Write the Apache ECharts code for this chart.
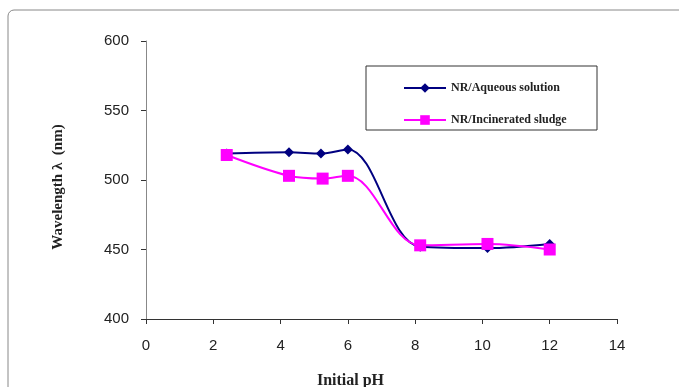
<!DOCTYPE html>
<html>
<head>
<meta charset="utf-8">
<script src="https://cdn.jsdelivr.net/npm/echarts@6/dist/echarts.min.js"></script>
<style>
  html, body { margin: 0; padding: 0; background: #fff; }
  #main { width: 679px; height: 387px; }
</style>
</head>
<body>
<div id="main"></div>
<script>
const xTicks = [0, 2, 4, 6, 8, 10, 12, 14];
const yTicks = [400, 450, 500, 550, 600];
const aqueousPH = [2.4, 4.25, 5.2, 6.0, 8.15, 10.15, 12.0];
const aqueousWave = [519, 520, 519, 522, 452, 451, 454];
const sludgePH = [2.4, 4.25, 5.25, 6.0, 8.15, 10.15, 12.0];
const sludgeWave = [518, 503, 501, 503, 453, 454, 450];

function pairs(xs, ys) {
  return xs.map(function (x, i) { return [x, ys[i]]; });
}

var myChart = echarts.init(document.getElementById("main"));
myChart.setOption({
  animation: false,
  grid: { left: 146, right: 62, top: 41, bottom: 68, containLabel: false, outerBoundsMode: "none" },
  graphic: [
    {
      type: "rect",
      shape: { x: 8, y: 10, width: 700, height: 400, r: 6 },
      style: { fill: "none", stroke: "#888", lineWidth: 1 }
    },
    {
      type: "rect",
      shape: { x: 366, y: 66, width: 231, height: 64 },
      style: { fill: "#fff", stroke: "#333", lineWidth: 1 },
      z: 5
    }
  ],
  legend: {
    orient: "vertical",
    left: 398,
    top: 77,
    itemGap: 20,
    itemWidth: 42,
    itemHeight: 12,
    z: 10,
    textStyle: {
      fontFamily: "Liberation Serif",
      fontWeight: "bold",
      fontSize: 12,
      color: "#222"
    },
    data: ["NR/Aqueous solution", "NR/Incinerated sludge"]
  },
  xAxis: {
    type: "value",
    min: 0,
    max: 14,
    interval: 2,
    name: "Initial pH",
    nameLocation: "middle",
    nameGap: 54,
    nameTextStyle: {
      fontFamily: "Liberation Serif",
      fontWeight: "bold",
      fontSize: 16,
      color: "#222",
      padding: [0, 62, 0, 0]
    },
    axisLine: { lineStyle: { color: "#333" } },
    axisTick: { show: true, length: 5, lineStyle: { color: "#333" } },
    axisLabel: {
      fontFamily: "Liberation Sans",
      fontSize: 15,
      color: "#222",
      margin: 19
    },
    splitLine: { show: false }
  },
  yAxis: {
    type: "value",
    min: 400,
    max: 600,
    interval: 50,
    name: "Wavelength λ  (nm)",
    nameLocation: "middle",
    nameGap: 80,
    nameTextStyle: {
      fontFamily: "Liberation Serif",
      fontWeight: "bold",
      fontSize: 15,
      color: "#222",
      padding: [0, 14, 0, 0]
    },
    axisLine: { show: true, lineStyle: { color: "#888" } },
    axisTick: { show: true, length: 5, lineStyle: { color: "#333" } },
    axisLabel: {
      fontFamily: "Liberation Sans",
      fontSize: 15,
      color: "#222",
      margin: 17
    },
    splitLine: { show: false }
  },
  series: [
    {
      name: "NR/Aqueous solution",
      type: "line",
      smooth: 0.35,
      data: pairs(aqueousPH, aqueousWave),
      symbol: "diamond",
      symbolSize: 10,
      itemStyle: { color: "#000080" },
      lineStyle: { color: "#000080", width: 2 },
      z: 2
    },
    {
      name: "NR/Incinerated sludge",
      type: "line",
      smooth: 0.35,
      data: pairs(sludgePH, sludgeWave),
      symbol: "rect",
      symbolSize: 12,
      itemStyle: { color: "#ff00ff" },
      lineStyle: { color: "#ff00ff", width: 2 },
      z: 3
    }
  ]
});
</script>
</body>
</html>
